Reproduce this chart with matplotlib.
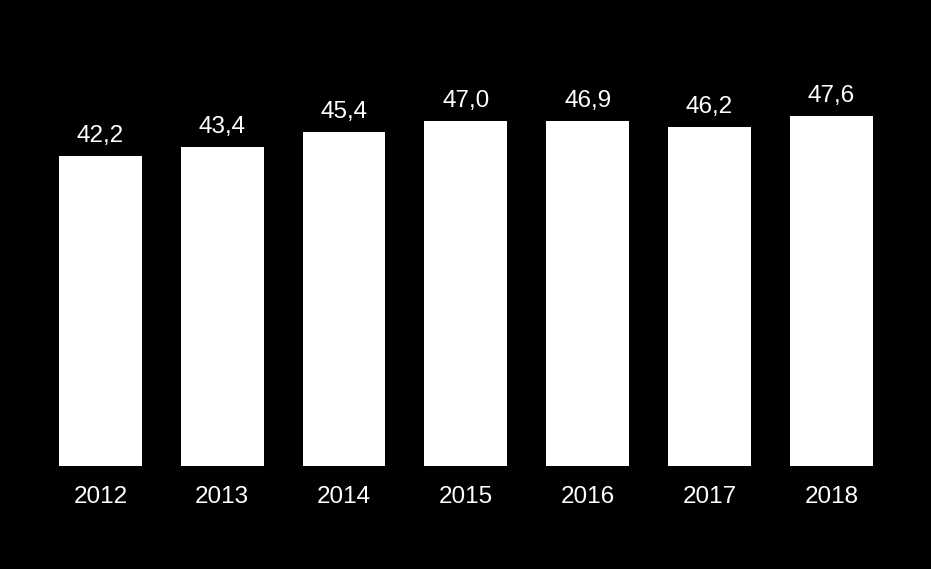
import matplotlib
matplotlib.use('Agg')
import matplotlib.pyplot as plt

# values per year
years = ['2012', '2013', '2014', '2015', '2016', '2017', '2018']
values = [42.2, 43.4, 45.4, 47.0, 46.9, 46.2, 47.6]
labels = ['42,2', '43,4', '45,4', '47,0', '46,9', '46,2', '47,6']

plt.rcParams['font.family'] = ['Liberation Sans', 'DejaVu Sans']

fig = plt.figure(figsize=(9.31, 5.69), dpi=100, facecolor='black')
ax = fig.add_axes([0.0425, 0.181, 0.9158, 0.7747])
ax.set_facecolor('black')

x = range(len(years))
bars = ax.bar(x, values, width=0.68, color='white')

for b, lab in zip(bars, labels):
    ax.annotate(lab, (b.get_x() + b.get_width() / 2, b.get_height()),
                xytext=(0, 6.5), textcoords='offset points',
                ha='center', va='bottom', color='white', fontsize=17.5)

ax.set_xlim(-0.5, 6.5)
ax.set_ylim(0, 60)
ax.set_xticks(list(x))
ax.set_xticklabels(years, fontsize=17.5, color='white')
ax.tick_params(axis='x', length=0, pad=14.5)
ax.set_yticks([])
for s in ax.spines.values():
    s.set_visible(False)

fig.savefig('out.png', dpi=100, facecolor='black')
